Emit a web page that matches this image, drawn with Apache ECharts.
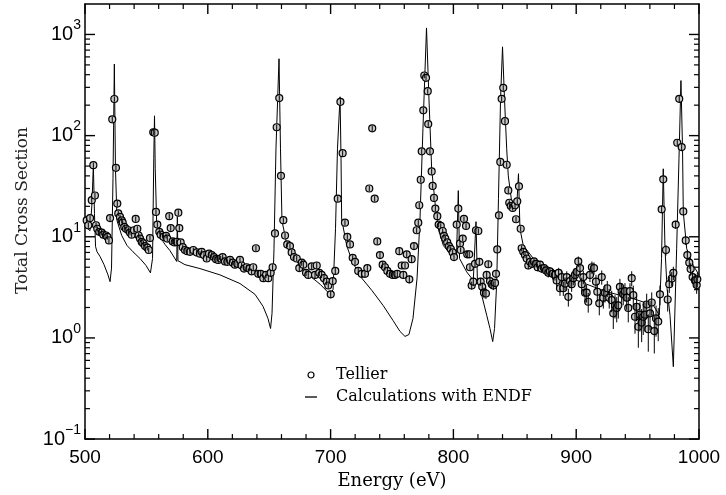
<!DOCTYPE html>
<html>
<head>
<meta charset="utf-8">
<script src="https://cdn.jsdelivr.net/npm/echarts@6/dist/echarts.min.js"></script>
<style>
  html, body { margin: 0; padding: 0; background: #fff; }
  #chart { width: 726px; height: 495px; }
  #log { position: absolute; left: 100px; top: 20px; font: 11px monospace; white-space: pre-wrap; color: red; }
</style>
</head>
<body>
<div id="chart"></div>
<div id="log"></div>
<script>
var logEl = document.getElementById('log');
window.onerror = function (m) { logEl.textContent += 'ERR ' + m + '\n'; };
console.error = function () { logEl.textContent += 'CE ' + Array.prototype.join.call(arguments, ' ') + '\n'; };

// Tellier data: [energy (eV), total cross section, error in %]
var tellier = [
  [501.4,14.5,6],[502.7,13,6],[504.1,15.3,6],[505.5,23,6],[506.8,51,6],[508.1,25.6,6],[509.0,13,6],[510.0,12,6],
  [511.6,11.2,6],[513.6,11,6],[514.9,10.5,6],[517.1,10.3,6],[518.2,10,6],[519.5,9.2,6],[520.4,15.3,6],
  [522.2,145,6],[523.9,230,6],[525.2,48,6],[526.3,21.3,6],[527.1,17,6],[528.5,15.7,6],[529.9,14.5,6],
  [530.7,13.8,6],[532.0,12.5,6],[533.4,12,6],[535.3,11.6,6],[536.6,11,6],[538.0,10.5,6],[539.9,11.6,6],
  [541.3,15,6],[542.6,12,6],[543.7,10.3,6],[544.8,9.6,6],[546.2,8.9,6],[547.5,8.6,6],[548.9,8.1,6],
  [550.7,7.8,6],[551.9,7.4,6],[552.9,9.7,6],[555.6,108,6],[556.8,107,6],[557.8,17.6,6],[558.9,13.2,6],
  [560.5,11.2,6],[561.6,10.5,6],[563.8,10,6],[566.0,10.2,6],[567.0,9.6,6],[568.6,16,6],[569.8,12.2,6],
  [571.4,9,6],[573.0,8.8,6],[574.7,8.9,6],[576.0,17.3,6],[576.8,12.2,6],[577.9,8.8,6],[579.6,7.9,6],
  [581.4,7.4,6],[583.3,7.2,6],[585.5,7.1,6],[588.2,7.4,6],[591.0,7,6],[593.6,6.8,6],[595.0,7.1,6],
  [596.9,6.6,6],[599.1,6.1,6],[601.0,6.8,6],[603.2,6.6,6],[605.0,6.3,6],[606.7,6,6],[608.5,5.9,6],
  [610.5,6.1,6],[612.1,6.3,6],[614.0,5.7,6],[615.9,5.65,6],[618.1,5.9,6],[620.3,5.55,6],[622.1,5.3,6],
  [624.0,5.4,6],[626.2,5.9,6],[627.6,5.2,6],[629.5,4.85,6],[631.7,5.0,6],[633.8,4.85,6],[635.7,4.55,6],
  [637.0,5.0,6],[639.2,7.7,6],[641.1,4.3,6],[643.1,4.3,7],[645.2,3.9,7],[647.4,4.2,7],[649.3,3.9,7],
  [651.2,4.4,7],[652.8,5,7],[654.7,10.8,6],[656.1,121,6],[658.2,235,6],[659.6,40,6],[661.5,14.6,6],
  [662.9,10.3,6],[664.7,8.4,6],[666.9,8.1,6],[668.3,7,6],[670.2,6.3,6],[672.4,6.1,6],[674.5,4.9,7],
  [676.5,5.55,7],[677.8,5.3,7],[680.0,4.4,7],[681.8,4.2,7],[684.6,5.1,7],[687.3,4.2,7],[688.7,5.2,7],
  [690.8,4.4,7],[692.7,4.2,7],[694.6,3.9,7],[696.8,3.6,7],[698.1,3.3,7],[700.1,2.7,8],[701.7,3.65,7],
  [703.8,4.6,7],[705.8,23.8,6],[708.0,216,6],[709.8,67,6],[711.7,13.8,6],[713.6,10,6],[715.8,8.4,6],
  [718.0,6.2,6],[719.9,5.65,6],[722.5,4.6,7],[725.3,4.3,7],[728.0,4.3,7],[729.9,4.9,7],[731.5,30,6],
  [733.9,118,6],[735.9,23.8,6],[738.0,9,6],[740.2,6.6,7],[742.4,5.3,7],[744.3,5,7],[746.2,4.6,7],
  [748.4,4.3,7],[750.6,4.2,7],[752.4,4.2,7],[754.3,4.3,7],[755.9,7.2,7],[757.9,5.2,7],[759.2,4.2,7],
  [760.6,5.2,7],[762.0,6.7,7],[764.1,3.8,9],[766.0,6,7],[767.9,8.1,7],[770.1,11.6,6],[771.4,13.8,6],
  [772.2,20.5,6],[773.4,36.6,6],[774.2,70,6],[775.5,178,6],[776.3,393,6],[777.7,373,6],[779.1,275,6],
  [779.5,130,6],[780.9,70,6],[782.3,44.3,6],[783.1,31.8,6],[784.2,24.2,6],[785.3,19,6],[786.9,16,6],
  [788.0,13.2,6],[789.7,12.8,6],[791.3,11.4,6],[792.3,10.2,6],[793.4,9.6,6],[795.0,8.8,6],[796.4,8.1,6],
  [797.8,7.6,6],[799.4,7,6],[800.5,6.3,6],[802.7,13.2,6],[804.0,19,6],[805.4,8.6,6],[805.9,7.4,6],
  [807.6,9.6,6],[808.6,15,6],[810.3,12.8,6],[811.3,6.7,7],[812.9,6.7,7],[813.5,5,7],[814.9,3.3,9],
  [816.2,3.6,9],[817.6,5.4,7],[818.4,11.6,6],[820.3,11.4,6],[821.1,5.65,7],[822.2,3.6,9],[823.5,3.2,10],
  [824.9,2.8,12],[826.5,2.75,12],[827.1,4.2,9],[828.4,5.35,8],[829.8,3.65,10],[831.2,3.4,10],
  [832.5,3.3,10],[833.9,3.5,10],[834.7,4.3,8],[835.7,7.5,7],[837.1,16.3,6],[838.2,55,6],[839.3,231,6],
  [840.6,297,6],[842.0,139,6],[843.4,51.5,6],[844.7,28.7,6],[845.5,21.7,6],[846.7,20.1,6],[848.3,19.3,6],
  [850.2,20.5,6],[851.0,14.9,6],[852.0,22.4,6],[853.4,31.5,6],[854.8,12,6],[855.6,7.7,7],[856.9,7.1,7],
  [858.3,6.6,7],[859.7,6.1,8],[861.0,5.2,8],[862.4,5.65,8],[864.0,5.4,8],[865.6,5.7,8],[867.3,5.4,8],
  [868.6,5.0,9],[870.5,5.3,9],[871.9,4.85,9],[873.8,4.9,10],[875.4,4.65,10],[877.3,4.4,10],[878.6,4.55,10],
  [880.8,4.3,12],[882.7,4.2,12],[884.1,3.7,14],[885.7,4.4,12],[886.8,3.1,16],[888.2,4,14],[889.5,3.1,16],
  [890.9,3.45,15],[892.3,4,14],[893.6,2.55,20],[894.9,3.65,15],[896.3,3.4,16],[897.6,3.9,15],[899.0,4.2,14],
  [900.4,4.5,13],[901.7,5.7,12],[903.1,4.9,13],[904.5,3.4,16],[905.8,4,15],[907.2,2.8,20],[908.5,2.8,20],
  [909.8,2.28,22],[911.2,4.2,15],[912.8,5,14],[914.5,4.9,14],[916.1,3.6,17],[917.2,2.86,20],[918.8,2.2,24],
  [920.8,4,16],[922.1,2.5,22],[923.4,2.8,20],[925.3,3.1,18],[926.9,2.5,22],[928.9,2.36,24],[930.2,1.75,30],
  [931.6,2.1,26],[933.0,1.98,28],[934.3,2.1,26],[935.6,3.2,20],[937.0,2.86,22],[938.3,2.7,22],[939.7,2.9,20],
  [941.1,2.5,24],[942.4,1.98,28],[943.8,2.9,20],[945.2,3.9,17],[946.5,2.65,24],[947.9,1.62,32],[949.2,2.03,28],
  [950.6,1.29,38],[951.9,1.7,32],[953.3,1.42,36],[954.6,1.62,34],[956.0,1.7,32],[957.4,2.14,28],[958.7,1.22,40],
  [960.1,1.75,32],[961.5,2.24,26],[963.6,1.17,40],[965.0,1.56,34],[966.8,1.45,36],[968.2,2.7,22],[969.6,18.7,8],
  [970.9,37,7],[973.1,7.4,12],[974.5,2.4,24],[975.8,3.4,18],[977.8,3.86,16],[979.1,4.4,15],[981.0,13.2,9],
  [982.3,85,7],[983.9,231,7],[985.9,77,7],[987.2,17.8,8],[989.2,9.2,10],[990.5,6.6,12],[992.1,5.55,13],
  [993.2,4.8,14],[994.8,4.0,15],[996.7,3.7,16],[998.1,3.33,18],[998.6,3.8,16]
];

// ENDF calculation: [energy (eV), total cross section]
var endf = [
  [500,12.6],[504.1,11.5],[505.7,21.3],[506.8,51.6],[507.7,17],[508.6,8.0],[509.8,7.1],[512.2,6.4],
  [515.5,5.3],[518.7,4.2],[520.4,3.6],[521.6,4.9],[522.8,37.6],[523.9,510],[524.8,47],[526.1,14.4],
  [529.9,10.3],[534.2,8.2],[539.1,7.1],[544.8,6.1],[549.7,5.2],[553.3,4.4],[555.0,6.1],[556.0,59],
  [556.6,157],[557.2,47],[558.4,13.2],[561.1,10.05],[565.1,8.4],[569.2,7.3],[574.7,5.7],[575.2,15.8],
  [575.7,5.8],[581.4,5.3],[593.6,4.85],[609.9,4.2],[626.2,3.45],[638.4,2.7],[645.0,2.05],[649.0,1.56],
  [651.1,1.24],[652.3,1.75],[653.9,7.6],[655.5,74],[658.0,575],[659.2,74],[660.4,14.4],[664.5,8.2],
  [669.4,6.4],[675.1,5.2],[683.2,4.1],[691.4,3.4],[699.5,2.7],[702.0,3.0],[704.0,12],[705.6,74],
  [707.7,242],[708.5,59],[709.0,15],[713.1,8.2],[717.4,5.8],[723.9,4.1],[733.7,2.94],[742.7,2.1],
  [750.8,1.49],[756.5,1.16],[760.6,1.035],[763.8,1.08],[767.1,1.56],[770.4,3.9],[772.8,15],[775.2,117],
  [778.1,1160],[780.1,231],[782.3,47],[785.0,22],[787.7,12],[791.8,8.2],[797.2,6.8],[802.5,6.2],
  [804.0,28.6],[805.0,6.1],[810.8,4.5],[816.2,3.7],[817.6,3.7],[818.4,14.1],[819.5,3.9],[821.7,3.08],
  [827.1,1.68],[829.8,1.24],[832.0,0.92],[833.5,1.24],[835.3,3.6],[836.7,23.8],[838.4,231],[840.0,754],
  [841.6,231],[843.4,74],[844.7,40],[847.5,22],[851.5,19],[853.0,42],[854.2,12],[856.9,8.2],
  [865.1,6.1],[884.1,4.5],[903.1,3.6],[924.8,2.86],[946.2,2.45],[962.8,2.1],[967.7,1.68],[969.5,6.1],
  [970.9,47],[972.3,7.6],[974.0,3.08],[976.4,1.67],[979.1,0.52],[981.8,7.6],[983.7,59],[985.3,350],
  [986.6,74],[987.2,17.6],[990.0,7.6],[995.4,5.2],[1000,4.2]
];

// tick values
var xMajorTicks = [500, 600, 700, 800, 900, 1000];
var xMinorTicks = [520,540,560,580,620,640,660,680,720,740,760,780,820,840,860,880,920,940,960,980];
var yMajorTicks = [0.1, 1, 10, 100, 1000];
var yMinorTicks = [0.2,0.3,0.4,0.5,0.6,0.7,0.8,0.9,2,3,4,5,6,7,8,9,20,30,40,50,60,70,80,90,
  200,300,400,500,600,700,800,900];

var xMin = 500, xMax = 1000, xStep = 100;
var yMin = 0.1, yMax = 2000;

var chart = echarts.init(document.getElementById('chart'));

function tickLine(x1, y1, x2, y2, w) {
  return { type: 'line', shape: { x1: x1, y1: y1, x2: x2, y2: y2 }, style: { stroke: '#000', lineWidth: w } };
}

// ticks along the bottom and top edges, drawn on the x scale
function xTickSeries(values, len, w) {
  return {
    type: 'custom', silent: true, z: 6, clip: false,
    data: values.map(function (v) { return [v, yMin]; }),
    renderItem: function (params, api) {
      var p = api.coord([api.value(0), yMin]);
      var cs = params.coordSys;
      var bottom = cs.y + cs.height;
      return { type: 'group', children: [
        tickLine(p[0], bottom, p[0], bottom - len, w),
        tickLine(p[0], cs.y, p[0], cs.y + len, w)
      ] };
    }
  };
}

// ticks along the left and right edges, drawn on the log scale
function yTickSeries(values, len, w) {
  return {
    type: 'custom', silent: true, z: 6, clip: false,
    data: values.map(function (v) { return [xMin, v]; }),
    renderItem: function (params, api) {
      var p = api.coord([xMin, api.value(1)]);
      var cs = params.coordSys;
      var right = cs.x + cs.width;
      return { type: 'group', children: [
        tickLine(cs.x, p[1], cs.x + len, p[1], w),
        tickLine(right, p[1], right - len, p[1], w)
      ] };
    }
  };
}

function yLabel(v) {
  var e = Math.log10(v);
  if (Math.abs(e - Math.round(e)) > 1e-6) return '';
  e = Math.round(e);
  return '{b|10}{s|' + (e < 0 ? '\u2212' + (-e) : e) + '}';
}

var option = {
  animation: false,
  backgroundColor: '#fff',
  grid: { left: 85, right: 27, top: 4, bottom: 55 },
  legend: {
    orient: 'vertical',
    left: 300,
    top: 362,
    itemWidth: 12,
    itemHeight: 6,
    itemGap: 6,
    selectedMode: false,
    formatter: function (n) { return '{t|' + n + '}'; },
    textStyle: {
      rich: {
        t: { fontFamily: 'DejaVu Serif', fontSize: 16, color: '#000', lineHeight: 16, padding: [0, 0, 0, 14] }
      }
    },
    data: [
      { name: 'Tellier', icon: 'circle', itemStyle: { color: '#fff', borderColor: '#000', borderWidth: 1.2 } },
      { name: 'Calculations with ENDF', icon: 'path://M0,0H12V1.3H0Z', itemStyle: { color: '#000' } }
    ]
  },
  xAxis: [{
    type: 'value', min: xMin, max: xMax, interval: xStep,
    name: 'Energy (eV)', nameLocation: 'middle', nameGap: 27,
    nameTextStyle: { fontFamily: 'DejaVu Serif', fontSize: 18, color: '#000' },
    axisLine: { show: true, lineStyle: { color: '#000', width: 1.5 } },
    axisTick: { show: false },
    axisLabel: { fontFamily: 'Liberation Sans', fontSize: 19, color: '#000', margin: 9,
      formatter: function (v) { return String(v); } },
    splitLine: { show: false }
  }, {
    type: 'value', min: xMin, max: xMax, interval: xStep, position: 'top',
    axisLine: { show: true, lineStyle: { color: '#000', width: 1.5 } },
    axisTick: { show: false },
    axisLabel: { show: false },
    splitLine: { show: false }
  }],
  yAxis: [{
    type: 'log', logBase: 10, min: yMin, max: yMax,
    name: 'Total Cross Section', nameLocation: 'middle', nameGap: 54, nameRotate: 90,
    nameTextStyle: { fontFamily: 'DejaVu Serif', fontSize: 17, color: '#222', padding: [0, 0, 0, 22] },
    axisLine: { show: true, lineStyle: { color: '#000', width: 1.5 } },
    axisTick: { show: false },
    axisLabel: {
      margin: 4,
      formatter: yLabel,
      rich: {
        b: { fontFamily: 'Liberation Sans', fontSize: 20, color: '#000', lineHeight: 32 },
        s: { fontFamily: 'Liberation Sans', fontSize: 14, color: '#000', lineHeight: 12, verticalAlign: 'top' }
      }
    },
    splitLine: { show: false }
  }, {
    type: 'log', logBase: 10, min: yMin, max: yMax, position: 'right',
    axisLine: { show: true, lineStyle: { color: '#000', width: 1.5 } },
    axisTick: { show: false },
    axisLabel: { show: false },
    splitLine: { show: false }
  }],
  series: [{
    name: 'Calculations with ENDF',
    type: 'line',
    data: endf,
    symbol: 'none',
    lineStyle: { color: '#000', width: 1 },
    z: 2
  }, {
    name: 'Tellier',
    type: 'scatter',
    data: tellier,
    symbol: 'circle',
    symbolSize: 7,
    itemStyle: { color: '#c8c8c8', borderColor: '#000', borderWidth: 1.2, opacity: 1 },
    z: 3
  }, {
    name: 'errors',
    type: 'custom',
    data: tellier,
    silent: true,
    z: 4,
    renderItem: function (params, api) {
      var x = api.value(0), y = api.value(1), e = api.value(2) / 100 * y;
      var p1 = api.coord([x, y - e]);
      var p2 = api.coord([x, y + e]);
      return tickLine(p1[0], p1[1], p2[0], p2[1], 1);
    }
  },
    xTickSeries(xMajorTicks, 10, 1.4),
    xTickSeries(xMinorTicks, 5, 1.2),
    yTickSeries(yMajorTicks, 10, 1.4),
    yTickSeries(yMinorTicks, 5, 1.2)
  ]
};

chart.setOption(option);
</script>
</body>
</html>
